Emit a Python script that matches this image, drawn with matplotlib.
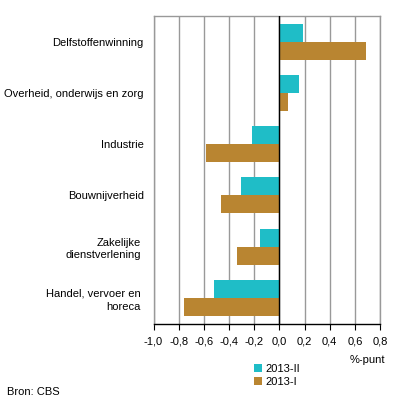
import matplotlib
matplotlib.use("Agg")
import matplotlib.pyplot as plt
import matplotlib.transforms as mtransforms
import numpy as np

plt.rcParams['font.family'] = ['Liberation Sans', 'DejaVu Sans']

categories = ["Delfstoffenwinning", "Overheid, onderwijs en zorg", "Industrie",
              "Bouwnijverheid", "Zakelijke\ndienstverlening", "Handel, vervoer en\nhoreca"]
series_2013_II = [0.19, 0.16, -0.22, -0.305, -0.155, -0.52]
series_2013_I = [0.69, 0.07, -0.58, -0.46, -0.34, -0.76]
xticks = [-1.0, -0.8, -0.6, -0.4, -0.2, 0.0, 0.2, 0.4, 0.6, 0.8]
xtick_labels = ["-1,0", "-0,8", "-0,6", "-0,4", "-0,2", "0,0", "0,2", "0,4", "0,6", "0,8"]

teal = "#1FBDC7"
brown = "#B98531"
fs = 8.0

W, H = 396, 403
fig = plt.figure(figsize=(W/100, H/100), dpi=100)
ax = fig.add_axes([153.5/W, 1-323.5/H, (380-153.5)/W, (323.5-16)/H])

y = np.arange(len(categories))
bh = 0.35
ax.barh(y - bh/2, series_2013_II, height=bh, color=teal, label="2013-II", zorder=3)
ax.barh(y + bh/2, series_2013_I, height=bh, color=brown, label="2013-I", zorder=3)

ax.set_xlim(-1.0, 0.8)
ax.set_ylim(len(categories)-0.5, -0.5)
ax.set_xticks(xticks)
ax.set_xticklabels(xtick_labels, fontsize=fs)
ax.set_yticks(y)
ax.set_yticklabels(categories, fontsize=fs, linespacing=1.35)
ax.tick_params(axis='y', length=0, pad=7)
ax.tick_params(axis='x', length=4, width=0.8, color='black', pad=5)
ax.xaxis.grid(True, color='#999999', linewidth=1, zorder=0)
ax.axvline(0, color='black', linewidth=1, zorder=4)
for s in ['left', 'top', 'right']:
    ax.spines[s].set_color('#999999')
    ax.spines[s].set_linewidth(1)
ax.spines['bottom'].set_color('black')
ax.spines['bottom'].set_linewidth(1)

for lbl in ax.get_yticklabels():
    if "\n" in lbl.get_text():
        lbl.set_transform(lbl.get_transform() +
                          mtransforms.ScaledTranslation(-3/100, 0, fig.dpi_scale_trans))

fig.text(385/W, 1-360/H, "%-punt", fontsize=fs, ha='right', va='center')
leg = fig.legend(loc='upper left', bbox_to_anchor=(254/W, 1-364/H), frameon=False,
                 fontsize=fs, handlelength=0.75, handleheight=0.75, handletextpad=0.3,
                 labelspacing=0.25, borderpad=0, borderaxespad=0)
fig.text(7/W, 1-392/H, "Bron: CBS", fontsize=fs, ha='left', va='center')

fig.savefig("out.png", dpi=100)
